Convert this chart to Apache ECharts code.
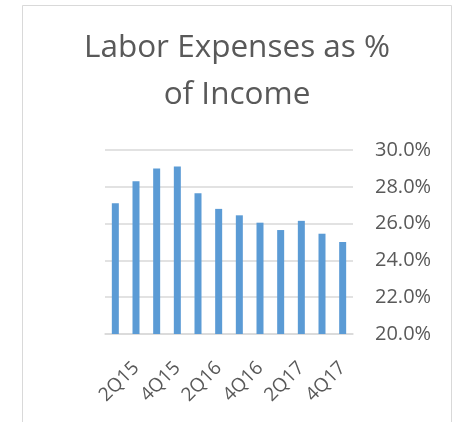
<!DOCTYPE html>
<html>
<head>
<meta charset="utf-8">
<script src="https://cdn.jsdelivr.net/npm/echarts@6/dist/echarts.min.js"></script>
<style>
html,body{margin:0;padding:0;background:#fff;}
#c{width:458px;height:422px;}
</style>
</head>
<body>
<div id="c"></div>
<script>
var titleText = 'Labor Expenses as %\nof Income';
var categories = ['1Q15','2Q15','3Q15','4Q15','1Q16','2Q16','3Q16','4Q16','1Q17','2Q17','3Q17','4Q17'];
var laborPct = [27.1, 28.3, 29.0, 29.1, 27.65, 26.8, 26.45, 26.05, 25.65, 26.15, 25.45, 25.0];
var yTicks = {min: 20, max: 30, interval: 2};

var chart = echarts.init(document.getElementById('c'), null, {renderer: 'canvas'});
var font = '"Open Sans", "Noto Sans", sans-serif';
chart.setOption({
  animation: false,
  backgroundColor: '#ffffff',
  graphic: [{
    type: 'rect',
    shape: {x: 22.5, y: 5.5, width: 429, height: 440},
    style: {fill: 'none', stroke: '#d9d9d9', lineWidth: 1},
    silent: true,
    z: -1
  }],
  title: {
    text: titleText,
    left: 232,
    textAlign: 'center',
    top: 20,
    textStyle: {fontFamily: font, fontSize: 31.5, fontWeight: 'normal', color: '#595959', lineHeight: 47}
  },
  grid: {left: 105, right: 105, top: 150, bottom: 88, containLabel: false},
  xAxis: {
    type: 'category',
    data: categories,
    axisLine: {show: true, lineStyle: {color: '#d9d9d9', width: 1.5}},
    axisTick: {show: false},
    axisLabel: {
      rotate: 45,
      interval: function (i) { return i % 2 === 1; },
      margin: 31,
      fontFamily: font,
      fontSize: 19,
      color: '#595959'
    }
  },
  yAxis: {
    type: 'value',
    position: 'right',
    min: yTicks.min,
    max: yTicks.max,
    interval: yTicks.interval,
    axisLine: {show: false},
    axisTick: {show: false},
    splitLine: {lineStyle: {color: '#d9d9d9', width: 1.5}},
    axisLabel: {
      margin: 22,
      fontFamily: font,
      fontSize: 20,
      color: '#595959',
      formatter: function (v) { return v.toFixed(1) + '%'; }
    }
  },
  series: [{
    type: 'bar',
    data: laborPct,
    barWidth: 7,
    itemStyle: {color: '#5b9bd5'}
  }]
});
</script>
</body>
</html>
